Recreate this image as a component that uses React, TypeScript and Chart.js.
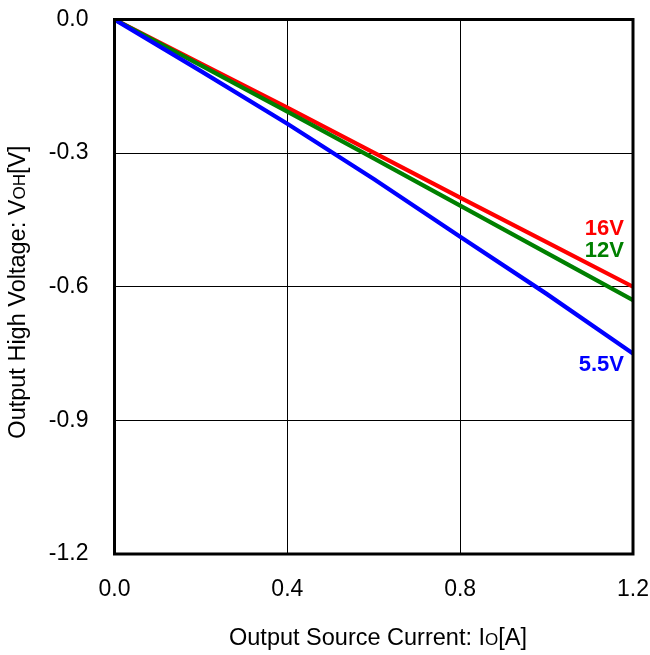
import React, { useEffect, useRef } from "react";
import { Chart, registerables } from "chart.js";

Chart.register(...registerables);

// Output source current Io [A]
const currents = [0, 0.2, 0.4, 0.6, 0.8, 1.0, 1.2];
// Output high voltage VOH [V] at each supply voltage
const voh16 = [0, -0.099, -0.198, -0.299, -0.4, -0.5, -0.6];
const voh12 = [0, -0.103, -0.207, -0.312, -0.418, -0.524, -0.63];
const voh55 = [0, -0.116, -0.234, -0.358, -0.488, -0.616, -0.75];

const seriesLabels = ["5.5V", "12V", "16V"];
const seriesColors = ["#0000ff", "#008000", "#ff0000"];

const xTicks = [0, 0.4, 0.8, 1.2];
const yTicks = [0, -0.3, -0.6, -0.9, -1.2];

const FONT = "Arial, 'Liberation Sans', sans-serif";

type Run = { t: string; small?: boolean };
const xTitle: Run[] = [{ t: "Output Source Current: I" }, { t: "O", small: true }, { t: "[A]" }];
const yTitle: Run[] = [{ t: "Output High Voltage: V" }, { t: "OH", small: true }, { t: "[V]" }];

function drawRuns(ctx: CanvasRenderingContext2D, runs: Run[], size: number) {
  const small = Math.round(size * 0.74);
  let total = 0;
  const widths = runs.map((r) => {
    ctx.font = `${r.small ? small : size}px ${FONT}`;
    const w = ctx.measureText(r.t).width;
    total += w;
    return w;
  });
  let x = -total / 2;
  runs.forEach((r, i) => {
    ctx.font = `${r.small ? small : size}px ${FONT}`;
    ctx.fillText(r.t, x, 0);
    x += widths[i];
  });
}

const framePlugin = {
  id: "frame",
  afterDraw(chart: any) {
    const { ctx, chartArea, scales } = chart;
    ctx.save();
    // heavy frame around plot area
    ctx.strokeStyle = "#000";
    ctx.lineWidth = 3;
    ctx.strokeRect(chartArea.left, chartArea.top, chartArea.right - chartArea.left, chartArea.bottom - chartArea.top);

    // axis titles
    ctx.fillStyle = "#000";
    ctx.textBaseline = "alphabetic";
    ctx.textAlign = "left";
    ctx.save();
    ctx.translate(378, 645);
    drawRuns(ctx, xTitle, 23.5);
    ctx.restore();
    ctx.save();
    ctx.translate(25, 292);
    ctx.rotate(-Math.PI / 2);
    drawRuns(ctx, yTitle, 23.5);
    ctx.restore();

    // series labels near the line ends
    const xs = scales.x;
    const ys = scales.y;
    const labelX = xs.getPixelForValue(1.2) - 9;
    const labelY = [-0.775, -0.52, -0.47];
    ctx.font = `bold 22px ${FONT}`;
    ctx.textAlign = "right";
    ctx.textBaseline = "middle";
    seriesLabels.forEach((lab, i) => {
      ctx.fillStyle = seriesColors[i];
      ctx.fillText(lab, labelX, ys.getPixelForValue(labelY[i]));
    });
    ctx.restore();
  },
};

function zeroPadding(s: any) {
  s.paddingLeft = 0;
  s.paddingRight = 0;
  s.paddingTop = 0;
  s.paddingBottom = 0;
}

export default function App() {
  const ref = useRef<HTMLCanvasElement>(null);
  useEffect(() => {
    document.body.style.margin = "0";
    const values = [voh55, voh12, voh16];
    const chart = new Chart(ref.current!, {
      type: "line",
      data: {
        datasets: values.map((v, i) => ({
          label: seriesLabels[i],
          data: currents.map((c, j) => ({ x: c, y: v[j] })),
          borderColor: seriesColors[i],
          borderWidth: 4.2,
          pointRadius: 0,
          tension: 0,
          fill: false,
        })),
      },
      options: {
        responsive: false,
        animation: false,
        layout: { padding: { left: 0, right: 17, top: 19.5, bottom: 0 } },
        plugins: { legend: { display: false }, tooltip: { enabled: false } },
        scales: {
          x: {
            type: "linear",
            min: 0,
            max: 1.2,
            afterBuildTicks: (s: any) => {
              s.ticks = xTicks.map((v) => ({ value: v }));
            },
            afterFit: (s: any) => {
              s.height = 101;
              zeroPadding(s);
            },
            ticks: {
              color: "#000",
              font: { family: FONT, size: 23 },
              padding: 22,
              maxRotation: 0,
              callback: (v: any) => Number(v).toFixed(1),
            },
            grid: { color: "#000", lineWidth: 1, drawTicks: false },
            border: { display: false },
          },
          y: {
            type: "linear",
            min: -1.2,
            max: 0,
            afterBuildTicks: (s: any) => {
              s.ticks = yTicks.map((v) => ({ value: v }));
            },
            afterFit: (s: any) => {
              s.width = 114.5;
              zeroPadding(s);
            },
            ticks: {
              color: "#000",
              font: { family: FONT, size: 23 },
              padding: 26,
              callback: (v: any) => Number(v).toFixed(1),
            },
            grid: { color: "#000", lineWidth: 1, drawTicks: false },
            border: { display: false },
          },
        },
      },
      plugins: [framePlugin],
    });
    return () => chart.destroy();
  }, []);
  return <canvas ref={ref} width={650} height={655} style={{ display: "block" }} />;
}
